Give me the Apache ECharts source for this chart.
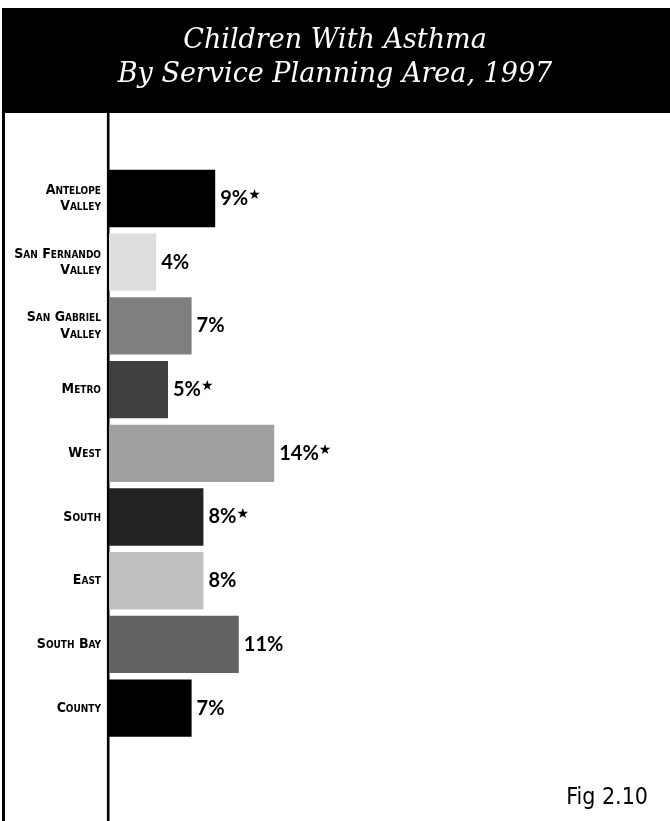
<!DOCTYPE html>
<html>
<head>
<meta charset="utf-8">
<script src="https://cdn.jsdelivr.net/npm/echarts@6/dist/echarts.min.js"></script>
<style>
html,body{margin:0;padding:0;background:#fff;}
#chart{width:670px;height:821px;}
</style>
</head>
<body>
<div id="chart"></div>
<script>
const titleLines = ['Children With Asthma', 'By Service Planning Area, 1997'];
const categories = ['Antelope\nValley', 'San Fernando\nValley', 'San Gabriel\nValley', 'Metro', 'West', 'South', 'East', 'South Bay', 'County'];
const values = [9, 4, 7, 5, 14, 8, 8, 11, 7];
const starred = [true, false, false, true, true, true, false, false, false];
const barColors = ['#000000', '#dedede', '#7f7f7f', '#404040', '#a0a0a0', '#222222', '#c0c0c0', '#626262', '#000000'];
const figLabel = 'Fig 2.10';

const chart = echarts.init(document.getElementById('chart'), null, {renderer: 'canvas'});
chart.setOption({
  backgroundColor: '#ffffff',
  animation: false,
  title: {
    text: titleLines.join('\n'),
    left: 'center',
    top: 19,
    textStyle: {
      color: '#ffffff',
      fontFamily: 'DejaVu Serif',
      fontStyle: 'italic',
      fontWeight: 'normal',
      fontSize: 27,
      lineHeight: 34
    }
  },
  graphic: [
    {type: 'rect', z: -1, shape: {x: 2, y: 8, width: 668, height: 105}, style: {fill: '#000000'}},
    {type: 'line', shape: {x1: 3.5, y1: 110, x2: 3.5, y2: 821}, style: {stroke: '#000000', lineWidth: 3}},
    {type: 'line', shape: {x1: 108.2, y1: 110, x2: 108.2, y2: 821}, style: {stroke: '#000000', lineWidth: 2.6}},
    {type: 'text', right: 22, top: 787, style: {text: figLabel, fill: '#000000', font: '23px "DejaVu Sans Condensed", sans-serif'}}
  ],
  grid: {left: 109, top: 166.6, width: 472, height: 573.4, containLabel: false},
  xAxis: {
    type: 'value', min: 0, max: 40, show: false
  },
  yAxis: {
    type: 'category',
    inverse: true,
    data: categories,
    axisLine: {show: false},
    axisTick: {show: false},
    axisLabel: {
      margin: 8,
      color: '#000000',
      fontFamily: '"DejaVu Sans Condensed", sans-serif',
      fontWeight: 'small-caps 600',
      fontSize: 14,
      lineHeight: 16.5,
      align: 'right'
    }
  },
  series: [{
    type: 'bar',
    barCategoryGap: '10%',
    data: values.map((v, i) => ({value: v, itemStyle: {color: barColors[i]}})),
    label: {
      show: true,
      position: 'right',
      distance: 5,
      formatter: p => '{v|' + p.value + '%}' + (starred[p.dataIndex] ? '{s|★}' : ''),
      rich: {
        v: {fontFamily: 'Lato', fontWeight: 'bold', fontSize: 20, color: '#000'},
        s: {fontFamily: 'DejaVu Sans', fontSize: 14, color: '#000', padding: [0, 0, 6, 0]}
      }
    }
  }]
});
</script>
</body>
</html>
